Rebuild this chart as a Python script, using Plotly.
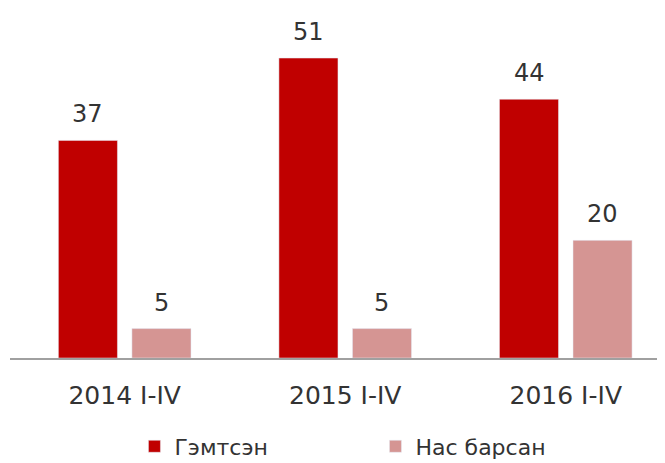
import plotly.graph_objects as go

categories = ["2014 I-IV", "2015 I-IV", "2016 I-IV"]
injured = [37, 51, 44]
deaths = [5, 5, 20]
series_names = ["Гэмтсэн", "Нас барсан"]
colors = ["#C00000", "#D59593"]

fig = go.Figure()
fig.add_trace(go.Bar(x=categories, y=injured, name=series_names[0], marker_color=colors[0]))
fig.add_trace(go.Bar(x=categories, y=deaths, name=series_names[1], marker_color=colors[1]))

font_family = "DejaVu Sans, sans-serif"
text_color = "#333333"
annotations = []
for vals, shift in ((injured, -36.75), (deaths, 36.75)):
    for c, v in zip(categories, vals):
        annotations.append(dict(x=c, y=v, xref="x", yref="y", text=str(v), showarrow=False,
                                xshift=shift, yshift=26, yanchor="middle",
                                font=dict(size=24, color=text_color, family=font_family)))

fig.update_layout(
    width=657, height=455,
    margin=dict(l=2, r=0, t=3, b=105, autoexpand=False),
    barmode="group", bargap=0.333, bargroupgap=0.197,
    plot_bgcolor="white", paper_bgcolor="white",
    font=dict(family=font_family, size=24, color=text_color),
    showlegend=True,
    legend=dict(orientation="h", x=0.19, xanchor="left", y=-0.255, yanchor="middle",
                font=dict(size=22, color=text_color), entrywidth=196, itemwidth=30),
    annotations=annotations,
)
fig.update_xaxes(range=[-0.52, 2.45], showline=True, linecolor="#A0A0A0", linewidth=1.5,
                 automargin=False, ticks="", ticklabelstandoff=14,
                 tickfont=dict(size=25, color=text_color))
fig.update_yaxes(range=[0, 59], visible=False, showgrid=False, automargin=False)

fig.write_html("out.html")
